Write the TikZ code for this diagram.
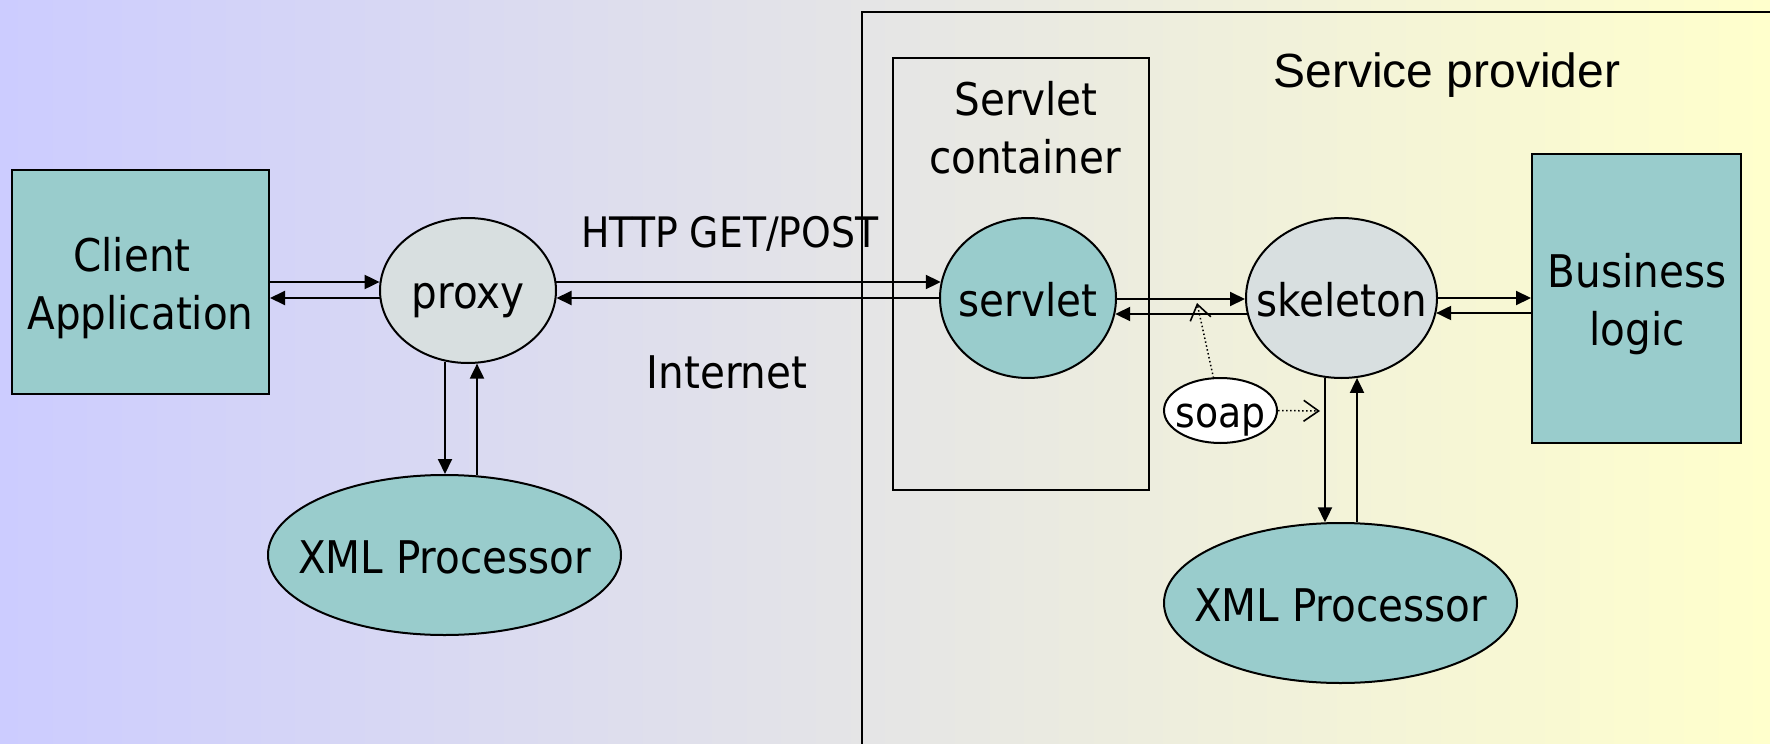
\documentclass[tikz,border=0pt]{standalone}
\usepackage{fontspec}
\setmainfont{DejaVu Sans Condensed}
\newfontfamily\arialfont{Liberation Sans}
\usetikzlibrary{shapes.geometric,arrows.meta,calc}
\definecolor{bgl}{RGB}{204,204,255}
\definecolor{bgr}{RGB}{255,255,204}
\definecolor{tealfill}{RGB}{153,204,204}
\definecolor{grayfill}{RGB}{216,223,224}
\begin{document}
\begin{tikzpicture}[x=1pt,y=-1pt,
  every node/.style={font=\fontsize{45}{54}\selectfont},
  boxnode/.style={draw, line width=2pt, fill=tealfill, rectangle, inner sep=0pt},
  ellnode/.style={draw, line width=2pt, ellipse, inner sep=0pt, text height=40pt, text depth=4pt},
  frame/.style={draw, line width=2pt, rectangle, inner sep=0pt},
  arr/.style={line width=2pt, -{Triangle[length=15pt,width=14pt]}},
  dotarr/.style={line width=1.5pt, dash pattern=on 1.5pt off 2.5pt, -{Straight Barb[length=15pt,width=21pt,line width=1.6pt]}},
  lbl/.style={anchor=base, inner sep=0pt}]
\useasboundingbox (0,0) rectangle (1770,744);
\clip (0,0) rectangle (1770,744);
\shade[left color=bgl, right color=bgr] (0,0) rectangle (1770,744);

% frames
\node[frame, anchor=north west, minimum width=1000pt, minimum height=800pt] (provider) at (861,11) {};
\node[frame, minimum width=256pt, minimum height=432pt] (container) at (1021,274) {};

% boxes
\node[boxnode, minimum width=257pt, minimum height=224pt] (client) at (140.5,282) {};
\node[boxnode, minimum width=209pt, minimum height=289pt] (business) at (1636.5,298.5) {};

% ellipses
\node[ellnode, fill=grayfill, minimum width=176pt, minimum height=145pt] (proxy) at (468,290.5) {\makebox[0pt]{proxy}};
\node[ellnode, fill=tealfill, minimum width=353pt, minimum height=160pt] (xmlL) at (444.5,555) {\makebox[0pt]{XML Processor}};
\node[ellnode, fill=tealfill, minimum width=176pt, minimum height=160pt] (servlet) at (1028,298) {\makebox[0pt]{servlet}};
\node[ellnode, fill=grayfill, minimum width=191pt, minimum height=160pt] (skeleton) at (1341.5,298) {\makebox[0pt]{skeleton}};
\node[ellnode, fill=tealfill, minimum width=353pt, minimum height=160pt] (xmlR) at (1340.5,603) {\makebox[0pt]{XML Processor}};
\node[ellnode, fill=white, minimum width=113pt, minimum height=65pt, text height=37pt, font=\fontsize{42}{50}\selectfont] (soap) at (1220.5,410.5) {\makebox[0pt]{soap}};

% texts
\node[lbl] (clientT1) at (132,271) {Client};
\node[lbl] (clientT2) at (140.5,329) {Application};
\node[lbl] (busT1) at (1637,287) {Business};
\node[lbl] (busT2) at (1637,345) {logic};
\node[lbl] (contT1) at (1026,115) {Servlet};
\node[lbl] (contT2) at (1025,173) {container};
\node[lbl, font=\fontsize{42}{50}\selectfont] (http) at (730,247) {HTTP GET/POST};
\node[lbl] (inet) at (727,388) {Internet};
\node[lbl, font=\arialfont\fontsize{48}{58}\selectfont] (sp) at (1447,87) {Service provider};

% connectors
\draw[arr] (client.east) -- ($(proxy.west)+(0.6,-8.5)$);
\draw[arr] ($(proxy.west)+(0.5,7.5)$) -- ($(client.east)+(0,16)$);
\draw[arr] ($(proxy.east)+(-0.6,-8.5)$) -- ($(servlet.west)+(1.8,-16)$);
\draw[arr] (servlet.west) -- ($(proxy.east)+(-0.5,7.5)$);
\draw[arr] ($(servlet.east)+(0,1)$) -- ($(skeleton.west)+(0,1)$);
\draw[arr] ($(skeleton.west)+(1.9,16)$) -- ($(servlet.east)+(-1.8,16)$);
\draw[arr] (skeleton.east) -- (skeleton.east -| business.west);
\draw[arr] ($(business.west)+(0,14.5)$) -- ($(skeleton.east)+(-1.9,15)$);
\draw[arr] ($(proxy.south)+(-23,-2.5)$) -- ($(xmlL.north)+(0.5,0)$);
\draw[arr] ($(xmlL.north)+(32.5,1.4)$) -- ($(proxy.south)+(9,-0.4)$);
\draw[arr] ($(skeleton.south)+(-16.5,-1.2)$) -- ($(xmlR.north)+(-15.5,0.3)$);
\draw[arr] ($(xmlR.north)+(16.5,0.3)$) -- ($(skeleton.south)+(15.5,-1.1)$);

\coordinate (tipA) at (1197,303);
\coordinate (tipB) at (1320,411);
\draw[dotarr] ($(soap.north)+(-7,1)$) -- (tipA);
\draw[dotarr] (soap.east) -- (tipB);
\end{tikzpicture}
\end{document}
